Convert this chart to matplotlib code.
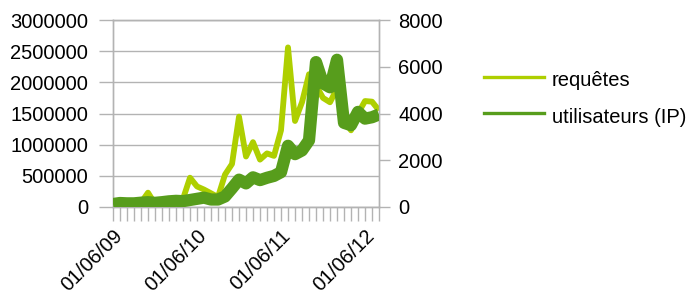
import matplotlib
matplotlib.use("Agg")
import matplotlib.pyplot as plt
from matplotlib.lines import Line2D
import numpy as np

plt.rcParams['font.family'] = ['Liberation Sans', 'DejaVu Sans']

# ---- data (monthly, June 2009 -> August 2012) ----
categories = []
for k in range(39):
    m = (6 + k - 1) % 12 + 1
    y = 9 + (6 + k - 1) // 12
    categories.append("01/%02d/%02d" % (m, y))
label_every = 12

requetes = [60000, 50000, 50000, 50000, 70000, 230000, 50000, 60000, 70000, 80000,
            130000, 470000, 330000, 280000, 220000, 160000, 520000, 690000, 1450000, 810000,
            1040000, 760000, 860000, 820000, 1230000, 2560000, 1380000, 1680000, 2130000, 1950000,
            1750000, 1680000, 1900000, 1400000, 1230000, 1500000, 1700000, 1690000, 1550000]

utilisateurs = [128, 171, 157, 157, 185, 207, 178, 207, 243, 264,
                250, 300, 350, 400, 320, 320, 450, 800, 1170, 1010,
                1270, 1150, 1250, 1330, 1490, 2620, 2260, 2420, 2850, 6200,
                5290, 5120, 6300, 3600, 3500, 4070, 3780, 3840, 3960]

left_ticks = [0, 500000, 1000000, 1500000, 2000000, 2500000, 3000000]
right_ticks = [0, 2000, 4000, 6000, 8000]
series_names = ["requêtes", "utilisateurs (IP)"]

c_light = '#aecf00'
c_dark = '#579d1c'
grid_c = '#b3b3b3'
FS = 14.5

W, H = 692, 299
fig = plt.figure(figsize=(W / 100, H / 100), dpi=100)

def fx(x):
    return x / W

def fy(y):
    return 1 - y / H

L, R, T, B = 113, 379, 20, 207
ax = fig.add_axes([fx(L), fy(B), fx(R - L), (B - T) / H])
x = np.arange(len(categories))

ax.set_xlim(0, len(categories) - 1)
ax.set_ylim(left_ticks[0], left_ticks[-1])
ax.set_axisbelow(True)
ax.yaxis.grid(True, color=grid_c, lw=1)
ax.plot(x, requetes, color=c_light, lw=4.2, solid_joinstyle='round',
        solid_capstyle='butt', zorder=3)

ax.set_yticks(left_ticks)
ax.set_yticklabels([str(v) for v in left_ticks], fontsize=FS)
ax.set_xticks(x)
ax.set_xticklabels([c if i % label_every == 0 else '' for i, c in enumerate(categories)],
                   fontsize=FS, rotation=45, ha='right', va='top', rotation_mode='anchor')
ax.tick_params(axis='x', length=10, width=1, color=grid_c, pad=4)
ax.tick_params(axis='y', length=10, width=1, color=grid_c, pad=8)
for s in ax.spines.values():
    s.set_color(grid_c)
    s.set_linewidth(1)

ax2 = ax.twinx()
ax2.set_ylim(right_ticks[0], right_ticks[-1])
ax2.plot(x, utilisateurs, color=c_dark, lw=8.8, solid_joinstyle='round',
         solid_capstyle='butt', zorder=4)
ax2.set_yticks(right_ticks)
ax2.set_yticklabels([str(v) for v in right_ticks], fontsize=FS)
ax2.tick_params(axis='y', length=8, width=1, color=grid_c, pad=6)
for s in ax2.spines.values():
    s.set_color(grid_c)
    s.set_linewidth(1)

# legend drawn manually
for (ly, ty, col, name) in [(77, 86.5, c_light, series_names[0]),
                             (113, 123, c_dark, series_names[1])]:
    fig.add_artist(Line2D([fx(484), fx(544)], [fy(ly), fy(ly)], color=col, lw=2.4,
                          transform=fig.transFigure))
    fig.text(fx(552), fy(ty), name, fontsize=FS, va='baseline', ha='left')

fig.savefig('out.png', dpi=100)
